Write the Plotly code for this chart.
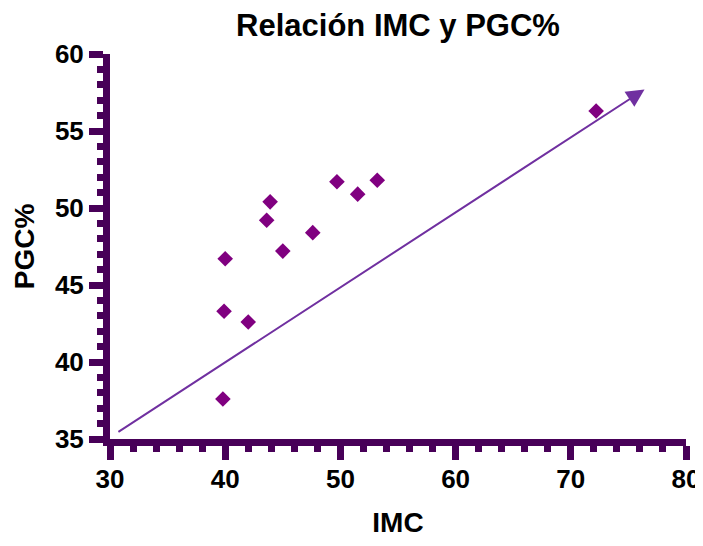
import plotly.graph_objects as go

# Data
imc = [40.0, 43.9, 43.6, 45.0, 47.6, 49.7, 51.5, 53.2, 39.9, 42.0, 39.8, 72.2]
pgc = [46.7, 50.4, 49.2, 47.2, 48.4, 51.7, 50.9, 51.8, 43.3, 42.6, 37.6, 56.3]

# Trend arrow (start and tip in data units)
arrow_x = [30.6, 76.4]
arrow_y = [35.4, 57.7]

x_ticks = [30, 40, 50, 60, 70, 80]
y_ticks = [35, 40, 45, 50, 55, 60]

AXIS = "#480058"
FONT = "Arial, Liberation Sans, sans-serif"

fig = go.Figure()
fig.add_trace(go.Scatter(
    x=imc, y=pgc, mode="markers",
    marker=dict(symbol="diamond", size=12, color="#800080"),
    showlegend=False, cliponaxis=False,
))

fig.add_annotation(
    x=arrow_x[1], y=arrow_y[1], ax=arrow_x[0], ay=arrow_y[0],
    xref="x", yref="y", axref="x", ayref="y",
    text="", showarrow=True, arrowhead=2, arrowsize=1.8, arrowwidth=2,
    arrowcolor="#7030A0", standoff=0, startstandoff=0,
)

axis_common = dict(
    showgrid=False, zeroline=False, showline=True, linecolor=AXIS, linewidth=7,
    ticks="outside", ticklen=14, tickwidth=7, tickcolor=AXIS, automargin=False,
    tickfont=dict(family=FONT, size=26, color="black", weight="bold"),
)

fig.update_xaxes(
    range=[30, 80], tickvals=x_ticks, ticktext=[str(v) for v in x_ticks],
    minor=dict(ticks="outside", ticklen=6, tickwidth=7, tickcolor=AXIS, dtick=2, tick0=30, showgrid=False),
    title=dict(text="IMC", font=dict(family=FONT, size=28, color="black", weight="bold"), standoff=28),
    ticklabelstandoff=-3,
    **axis_common,
)
fig.update_yaxes(
    range=[35, 60], tickvals=y_ticks, ticktext=[str(v) for v in y_ticks],
    minor=dict(ticks="outside", ticklen=6, tickwidth=7, tickcolor=AXIS, dtick=1, tick0=35, showgrid=False),
    title=dict(text="PGC%", font=dict(family=FONT, size=28, color="black", weight="bold"), standoff=15),
    **axis_common,
)

# The page body adds an 8px offset, so the figure is sized/margined to compensate
fig.update_layout(
    width=695, height=530,
    margin=dict(l=102, r=17, t=46, b=99),
    paper_bgcolor="white", plot_bgcolor="white",
    title=dict(text="Relación IMC y PGC%", x=0.5, xref="paper", xanchor="center",
               y=1 - 17 / 530, yanchor="middle",
               font=dict(family=FONT, size=31, color="black", weight="bold")),
)

fig.write_html("out.html")
